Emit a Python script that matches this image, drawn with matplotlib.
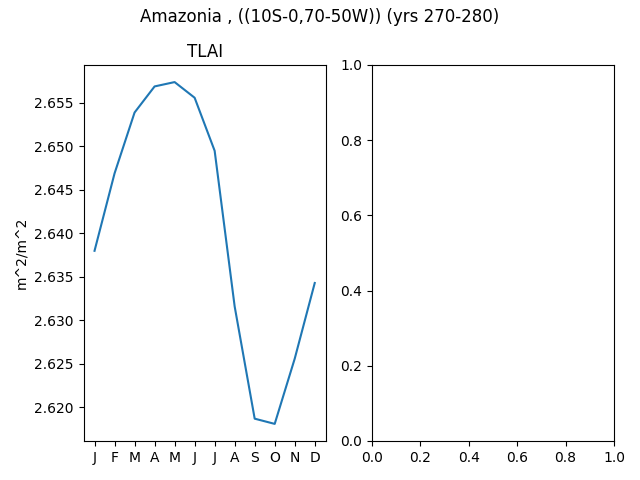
import matplotlib
matplotlib.use("Agg")
import matplotlib.pyplot as plt

months = ['J', 'F', 'M', 'A', 'M', 'J', 'J', 'A', 'S', 'O', 'N', 'D']
tlai = [2.6380, 2.6469, 2.6539, 2.6569, 2.6574, 2.6556,
        2.6495, 2.6316, 2.6187, 2.6181, 2.6256, 2.6343]

fig, axs = plt.subplots(1, 2, figsize=(6.4, 4.8), dpi=100)
fig.suptitle('Amazonia , ((10S-0,70-50W)) (yrs 270-280)', y=0.983)

ax = axs[0]
ax.plot(range(len(months)), tlai)
ax.set_xticks(range(len(months)))
ax.set_xticklabels(months)
ax.set_title('TLAI')
ax.set_ylabel('m^2/m^2')

fig.subplots_adjust(left=0.1305, right=0.9594, top=0.8646, bottom=0.0813, wspace=0.19)
fig.savefig('out.png')
